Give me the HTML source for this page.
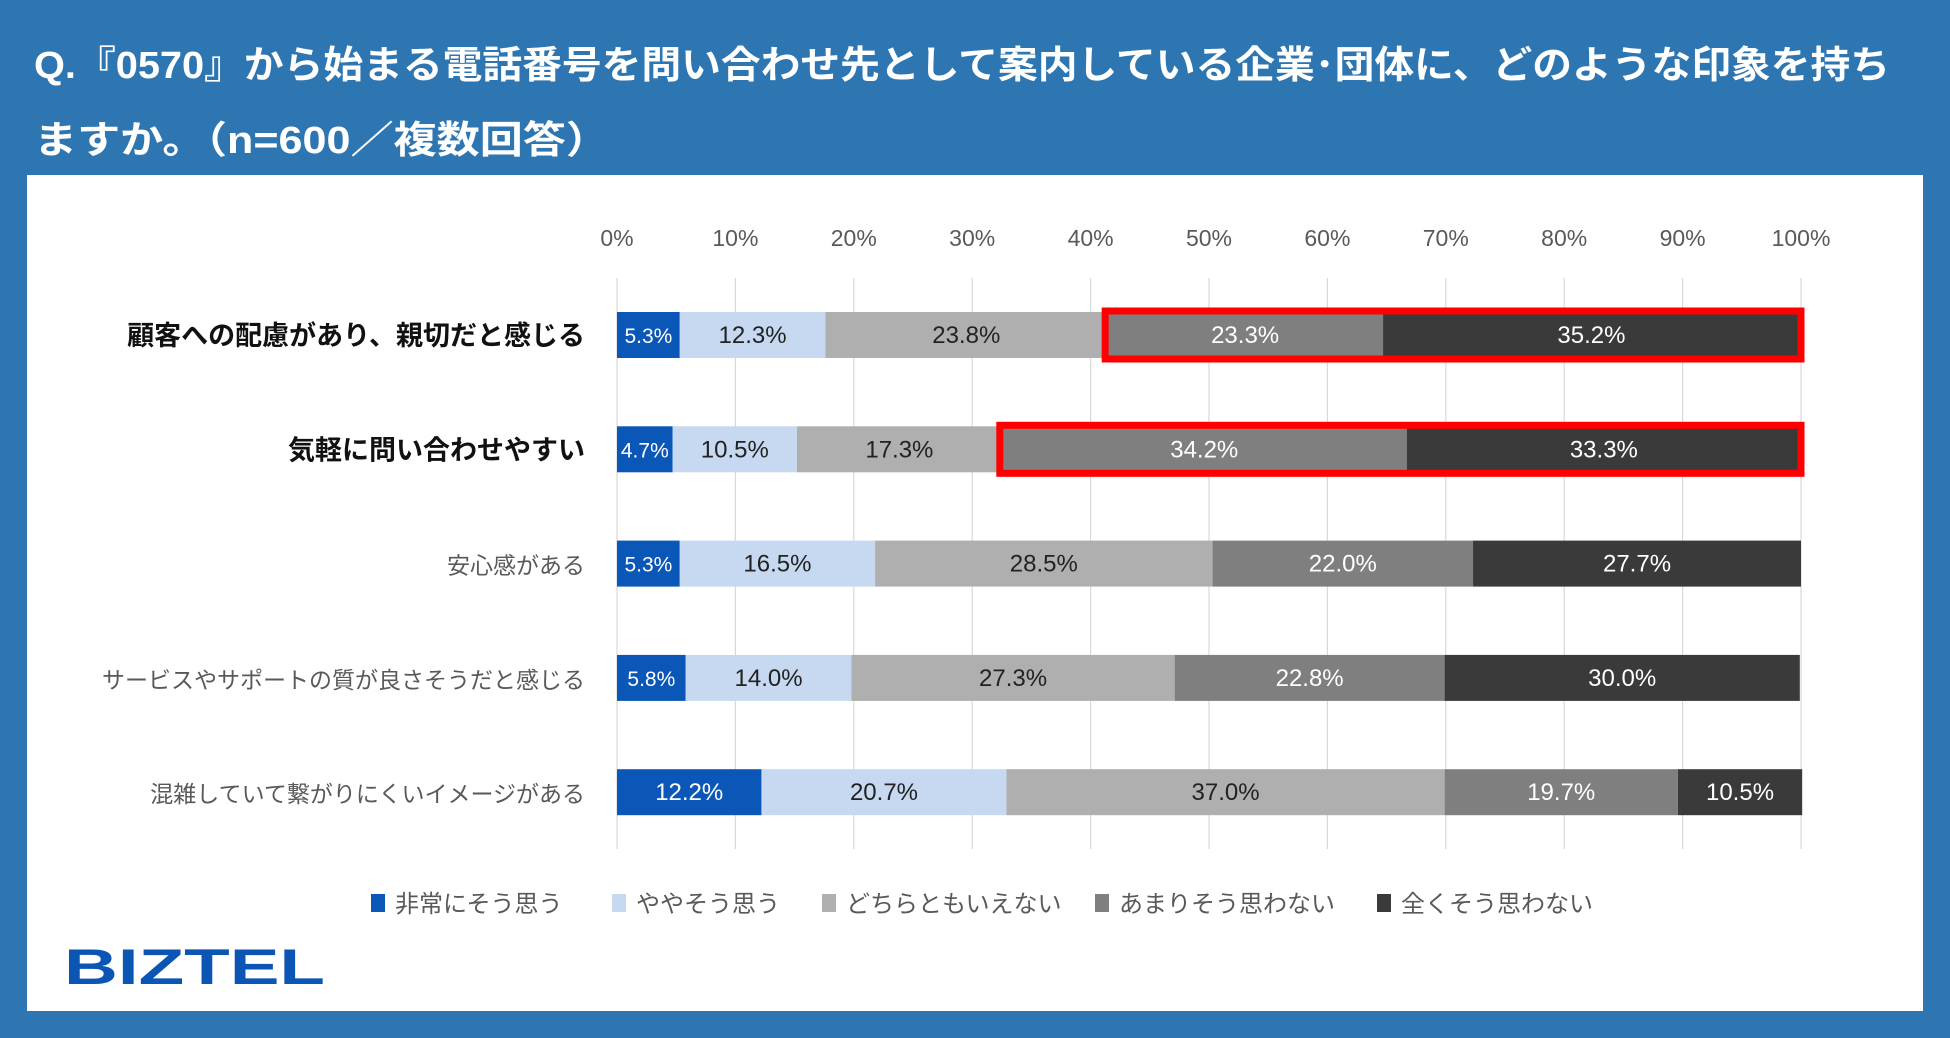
<!DOCTYPE html>
<html><head><meta charset="utf-8">
<style>
html,body{margin:0;padding:0;background:#2e76b1;}
svg{display:block;font-family:"Liberation Sans","Noto Sans CJK JP",sans-serif;}
</style></head>
<body>
<svg id="chart" width="1950" height="1038" viewBox="0 0 1950 1038">
  <rect x="0" y="0" width="1950" height="1038" fill="#2e76b1"/>
  <text x="34" y="78" font-size="38" font-weight="bold" fill="#fff" textLength="1856" lengthAdjust="spacingAndGlyphs">Q.『0570』から始まる電話番号を問い合わせ先として案内している企業･団体に、どのような印象を持ち</text>
  <text x="34" y="153" font-size="38" font-weight="bold" fill="#fff" textLength="575" lengthAdjust="spacingAndGlyphs">ますか。（n=600／複数回答）</text>
  <rect x="27" y="175" width="1896" height="836" fill="#fff"/>
  <g id="grid"></g>
  <g id="bars"></g>
  <g id="legend"></g>
  <text x="64" y="984" font-size="50" font-weight="bold" fill="#0b55b5" textLength="261" lengthAdjust="spacingAndGlyphs">BIZTEL</text>
</svg>
<script>
const categories = ["顧客への配慮があり、親切だと感じる","気軽に問い合わせやすい","安心感がある","サービスやサポートの質が良さそうだと感じる","混雑していて繋がりにくいイメージがある"];
const seriesNames = ["非常にそう思う","ややそう思う","どちらともいえない","あまりそう思わない","全くそう思わない"];
const s1 = [5.3,4.7,5.3,5.8,12.2];
const s2 = [12.3,10.5,16.5,14.0,20.7];
const s3 = [23.8,17.3,28.5,27.3,37.0];
const s4 = [23.3,34.2,22.0,22.8,19.7];
const s5 = [35.2,33.3,27.7,30.0,10.5];
const ticks = [0,10,20,30,40,50,60,70,80,90,100];
const highlighted = [0,1];

const NS="http://www.w3.org/2000/svg";
const colors=["#0b57b8","#c6d9f1","#afafaf","#7f7f7f","#3a3a3a"];
const textColors=["#fff","#222","#222","#fff","#fff"];
const X0=617, W=1184, Y0=335, STEP=114.3, BH=46;
const x=v=>X0+v/100*W;
const y=i=>Y0+i*STEP;
function mk(tag,attrs,parent){const e=document.createElementNS(NS,tag);for(const k in attrs)e.setAttribute(k,attrs[k]);parent.appendChild(e);return e;}
const grid=document.getElementById('grid'),bars=document.getElementById('bars'),legend=document.getElementById('legend');
ticks.forEach(t=>{
  const l=mk('line',{x1:x(t),x2:x(t),y1:278,y2:849,stroke:'#d9d9d9','stroke-width':1.2},grid);
  
  
  const tx=mk('text',{x:x(t),y:246,'font-size':23,fill:'#595959','text-anchor':'middle'},grid);
  tx.textContent=t+'%';
  
  
});
const series=[s1,s2,s3,s4,s5];
categories.forEach((c,i)=>{
  const hl=highlighted.includes(i);
  const lb=mk('text',{x:585,y:y(i)+10,'font-size':hl?27:23,'font-weight':hl?'bold':'normal',fill:hl?'#111':'#595959','text-anchor':'end'},bars);
  lb.textContent=c;
  
  
  let cum=0;
  series.forEach((s,k)=>{
    const v=s[i];
    const r=mk('rect',{x:x(cum),y:y(i)-BH/2,width:x(cum+v)-x(cum),height:BH,fill:colors[k]},bars);
    
    
    const t=mk('text',{x:(x(cum)+x(cum+v))/2,y:y(i)+8,'font-size':24,fill:textColors[k],'text-anchor':'middle'},bars);
    if(v<6){t.setAttribute('font-size',21);}
    t.textContent=v.toFixed(1)+'%';
    
    
    cum+=v;
  });
  if(hl){
    const start=s1[i]+s2[i]+s3[i];
    const hb=mk('rect',{x:x(start)-2,y:y(i)-BH/2-1,width:x(100)-x(start)+2,height:BH+2,fill:'none',stroke:'#ff0000','stroke-width':7},bars);
    
    
  }
});
const legX=[371,612,822,1095,1377];
seriesNames.forEach((n,k)=>{
  const r=mk('rect',{x:legX[k],y:894,width:14,height:18,fill:colors[k]},legend);
  
  
  const t=mk('text',{x:legX[k]+24,y:912,'font-size':24,fill:'#595959'},legend);
  t.textContent=n;
  
  
});
</script>
</body></html>
